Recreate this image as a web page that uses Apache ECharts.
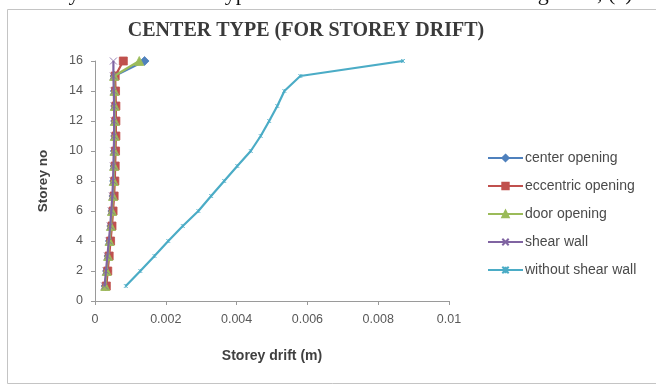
<!DOCTYPE html>
<html>
<head>
<meta charset="utf-8">
<script src="https://cdn.jsdelivr.net/npm/echarts@6/dist/echarts.min.js"></script>
<style>
  html, body { margin: 0; padding: 0; background: #ffffff; }
  #chart { width: 656px; height: 385px; }
</style>
</head>
<body>
<div id="chart"></div>
<script>
// Storey numbers (y) and storey drift in metres (x) for each model
const storeys = [1, 2, 3, 4, 5, 6, 7, 8, 9, 10, 11, 12, 13, 14, 15, 16];
const centerOpening    = [0.00030, 0.00034, 0.00038, 0.00042, 0.00046, 0.00049, 0.00052, 0.00054, 0.00055, 0.00056, 0.00057, 0.00057, 0.00057, 0.00056, 0.00055, 0.00140];
const eccentricOpening = [0.00032, 0.00036, 0.00040, 0.00044, 0.00048, 0.00051, 0.00054, 0.00056, 0.00057, 0.00058, 0.00059, 0.00059, 0.00059, 0.00058, 0.00057, 0.00080];
const doorOpening      = [0.00029, 0.00033, 0.00037, 0.00041, 0.00045, 0.00048, 0.00051, 0.00053, 0.00054, 0.00055, 0.00056, 0.00056, 0.00056, 0.00055, 0.00054, 0.00125];
const shearWall        = [0.00027, 0.00031, 0.00035, 0.00039, 0.00043, 0.00046, 0.00049, 0.00051, 0.00052, 0.00053, 0.00054, 0.00054, 0.00054, 0.00053, 0.00052, 0.00052];
const withoutShearWall = [0.00087, 0.00128, 0.00168, 0.00207, 0.00248, 0.00292, 0.00328, 0.00365, 0.00402, 0.00440, 0.00468, 0.00492, 0.00515, 0.00535, 0.00580, 0.00870];

const seriesNames = ['center opening', 'eccentric opening', 'door opening', 'shear wall', 'without shear wall'];
const xTicks = [0, 0.002, 0.004, 0.006, 0.008, 0.01];
const yTicks = [0, 2, 4, 6, 8, 10, 12, 14, 16];

const pairs = vals => vals.map((v, i) => [v, storeys[i]]);
const sans = '"Liberation Sans", Arial, sans-serif';
const crossPath = 'path://M0,0 L10,10 M10,0 L0,10';
const starPath = 'path://M0,0 L10,10 M10,0 L0,10 M5,0 L5,10';

function lineSeries(name, vals, color, symbol, symbolSize, z) {
  return {
    name: name,
    type: 'line',
    data: pairs(vals),
    symbol: symbol,
    symbolSize: symbolSize,
    z: z,
    lineStyle: { color: color, width: 2.2 },
    itemStyle: { color: color, borderColor: color, borderWidth: 0.8 },
    emphasis: { disabled: true },
    animation: false
  };
}

const chart = echarts.init(document.getElementById('chart'), null, { renderer: 'canvas' });
chart.setOption({
  backgroundColor: '#ffffff',
  animation: false,
  graphic: [
    {
      // caption line of the page above the chart frame (only its lower edge shows)
      type: 'text',
      x: 22, y: 5, z: -10,
      style: {
        text: 'Storey drift for center type shear wall with different bracing units, (c)',
        font: '22px "Liberation Serif", "Times New Roman", serif',
        fill: '#111111',
        verticalAlign: 'bottom'
      }
    },
    {
      type: 'rect',
      z: -5,
      shape: { x: 7.5, y: 9.5, width: 660, height: 374 },
      style: { fill: '#ffffff', stroke: '#c4c4c4', lineWidth: 1 }
    },
    {
      type: 'text',
      x: 306, y: 21, z: 2,
      style: {
        text: 'CENTER TYPE (FOR STOREY DRIFT)',
        font: 'bold 20px "Liberation Serif", "Times New Roman", serif',
        fill: '#3a3a3a',
        textAlign: 'center'
      }
    }
  ],
  grid: { left: 95, right: 207, top: 61, bottom: 84 },
  legend: {
    orient: 'vertical',
    left: 482, top: 146,
    itemWidth: 35, itemHeight: 8, itemGap: 14,
    data: seriesNames,
    textStyle: { fontFamily: sans, fontSize: 14, color: '#4a4a4a', padding: [0, 0, 0, -3] }
  },
  xAxis: {
    type: 'value',
    min: 0, max: 0.01, interval: 0.002,
    name: 'Storey drift (m)',
    nameLocation: 'middle', nameGap: 48,
    nameTextStyle: { fontFamily: sans, fontSize: 14, fontWeight: 'bold', color: '#404040' },
    axisLine: { lineStyle: { color: '#9a9a9a', width: 1 } },
    axisTick: { show: true, length: 4, lineStyle: { color: '#9a9a9a' } },
    splitLine: { show: false },
    axisLabel: {
      fontFamily: sans, fontSize: 12.5, color: '#595959', margin: 12,
      formatter: v => {
        const hit = xTicks.find(t => Math.abs(t - v) < 1e-9);
        return String(hit !== undefined ? hit : +v.toFixed(3));
      }
    }
  },
  yAxis: {
    type: 'value',
    min: 0, max: 16, interval: 2,
    name: 'Storey no',
    nameLocation: 'middle', nameGap: 45, nameRotate: 90,
    nameTextStyle: { fontFamily: sans, fontSize: 13.5, fontWeight: 'bold', color: '#404040' },
    axisLine: { show: true, lineStyle: { color: '#9a9a9a', width: 1 } },
    axisTick: { show: true, length: 4, lineStyle: { color: '#9a9a9a' } },
    splitLine: { show: false },
    axisLabel: {
      fontFamily: sans, fontSize: 12.5, color: '#595959', margin: 12,
      formatter: v => String(yTicks.find(t => t === v) ?? v)
    }
  },
  series: [
    lineSeries(seriesNames[0], centerOpening, '#4f81bd', 'diamond', 9, 3),
    lineSeries(seriesNames[1], eccentricOpening, '#c0504d', 'rect', 8, 4),
    lineSeries(seriesNames[2], doorOpening, '#9bbb59', 'triangle', 9, 5),
    lineSeries(seriesNames[3], shearWall, '#8064a2', crossPath, 7, 6),
    lineSeries(seriesNames[4], withoutShearWall, '#4bacc6', starPath, 4, 7)
  ]
});
</script>
</body>
</html>
